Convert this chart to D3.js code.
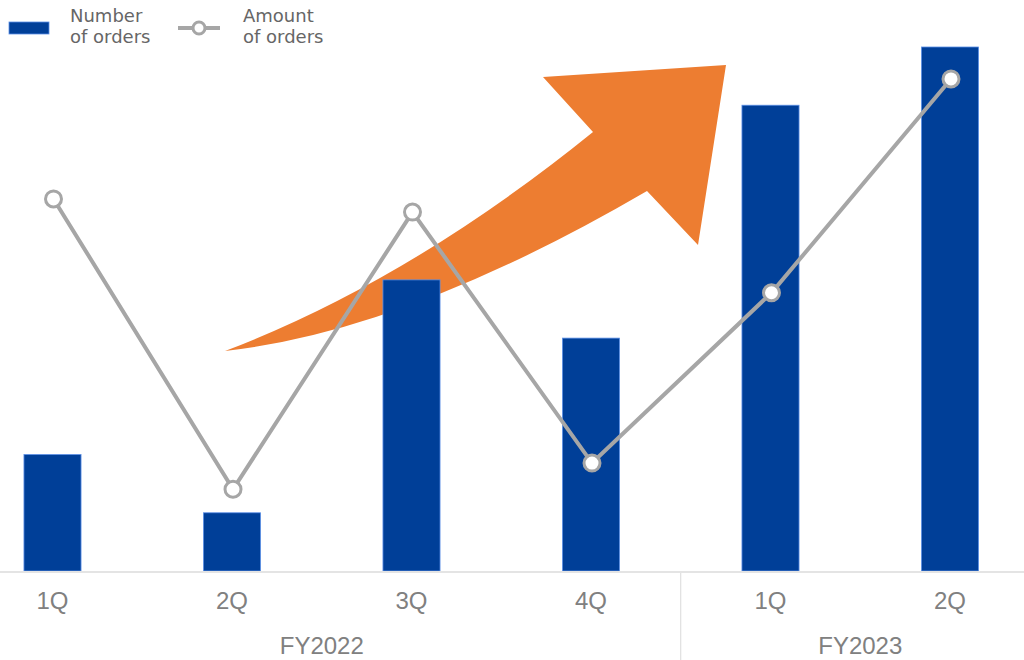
<!DOCTYPE html>
<html>
<head>
<meta charset="utf-8">
<script src="https://cdn.jsdelivr.net/npm/d3@7"></script>
<style>
  html, body { margin: 0; padding: 0; background: #fff; }
  svg { display: block; }
</style>
</head>
<body>
<svg id="chart" width="1024" height="660"></svg>
<script>
// Quarterly order data
const fiscalYears = ["FY2022", "FY2023"];
const quarters = ["1Q", "2Q", "3Q", "4Q", "1Q", "2Q"];
const quarterYear = ["FY2022", "FY2022", "FY2022", "FY2022", "FY2023", "FY2023"];
const numberOfOrders = [2, 1, 5, 4, 8, 9];
const amountOfOrders = [71, 15.6, 68.5, 20.6, 53.1, 93.9];

const seriesNames = ["Number\nof orders", "Amount\nof orders"];

const colors = {
  bar: "#003f98",
  barEdge: "#5b8fe6",
  line: "#a6a6a6",
  arrow: "#ed7d31",
  tick: "#808080",
  legend: "#666666",
  axis: "#e4e4e4",
  divider: "#d9d9d9"
};

const svg = d3.select("#chart");
const W = 1024, H = 660;
const baseY = 571;

const keys = quarters.map((q, i) => quarterYear[i] + "-" + q);

const x = d3.scaleBand()
  .domain(keys)
  .range([-37.25, 1039.75])
  .paddingInner(0.682)
  .paddingOuter(0.341);

const yBar = d3.scaleLinear().domain([0, 9]).range([baseY, 47]);
const yLine = d3.scaleLinear().domain([0, 100]).range([baseY, 47]);

// Growth arrow (drawn beneath the bars)
const arrow = d3.path();
arrow.moveTo(225, 351);
arrow.quadraticCurveTo(409, 281, 593, 132);
arrow.lineTo(543, 77);
arrow.lineTo(726, 65);
arrow.lineTo(698, 245);
arrow.lineTo(647, 191);
arrow.quadraticCurveTo(407, 331, 225, 351);
arrow.closePath();
svg.append("path").attr("d", arrow.toString()).attr("fill", colors.arrow);

// Bars: number of orders
svg.append("g").selectAll("rect")
  .data(numberOfOrders)
  .join("rect")
  .attr("x", (d, i) => x(keys[i]))
  .attr("y", d => yBar(d))
  .attr("width", x.bandwidth())
  .attr("height", d => baseY - yBar(d))
  .attr("fill", colors.bar)
  .attr("stroke", colors.barEdge)
  .attr("stroke-width", 0.8);

// Category axis
const axis = svg.append("g")
  .attr("transform", `translate(0,${baseY + 1})`)
  .call(d3.axisBottom(x).tickSize(0).tickPadding(0).tickFormat((k, i) => quarters[i]));
axis.select(".domain").remove();
axis.selectAll("text")
  .attr("y", 37)
  .attr("dy", 0)
  .attr("fill", colors.tick)
  .style("font-family", "'Liberation Sans', Arial, sans-serif")
  .style("font-size", "24px");

svg.append("line")
  .attr("x1", 0).attr("x2", W)
  .attr("y1", baseY + 1).attr("y2", baseY + 1)
  .attr("stroke", colors.axis).attr("stroke-width", 1.8);

// Fiscal-year divider and group labels
const lastFY22 = keys[3], firstFY23 = keys[4];
const divX = (x(lastFY22) + x(firstFY23) + x.bandwidth()) / 2;
svg.append("line")
  .attr("x1", divX).attr("x2", divX)
  .attr("y1", baseY + 2).attr("y2", H)
  .attr("stroke", colors.divider).attr("stroke-width", 1);

fiscalYears.forEach(fy => {
  const ks = keys.filter((k, i) => quarterYear[i] === fy);
  const cx = (x(ks[0]) + x(ks[ks.length - 1]) + x.bandwidth()) / 2;
  svg.append("text")
    .attr("x", cx).attr("y", 654)
    .attr("text-anchor", "middle")
    .attr("fill", colors.tick)
    .style("font-family", "'Liberation Sans', Arial, sans-serif")
    .style("font-size", "24px")
    .text(fy);
});

// Line: amount of orders
const cxOf = i => x(keys[i]) + x.bandwidth() / 2 + 1;
const line = d3.line().x((d, i) => cxOf(i)).y(d => yLine(d));
svg.append("path")
  .datum(amountOfOrders)
  .attr("d", line)
  .attr("fill", "none")
  .attr("stroke", colors.line)
  .attr("stroke-width", 4);
svg.append("g").selectAll("circle")
  .data(amountOfOrders)
  .join("circle")
  .attr("cx", (d, i) => cxOf(i))
  .attr("cy", d => yLine(d))
  .attr("r", 8)
  .attr("fill", "#fff")
  .attr("stroke", colors.line)
  .attr("stroke-width", 3);

// Legend
const legend = svg.append("g");
legend.append("rect")
  .attr("x", 9).attr("y", 22).attr("width", 40).attr("height", 12)
  .attr("fill", colors.bar).attr("stroke", colors.barEdge).attr("stroke-width", 0.8);
legend.append("line")
  .attr("x1", 178).attr("x2", 220).attr("y1", 28).attr("y2", 28)
  .attr("stroke", colors.line).attr("stroke-width", 4);
legend.append("circle")
  .attr("cx", 199).attr("cy", 28).attr("r", 6)
  .attr("fill", "#fff").attr("stroke", colors.line).attr("stroke-width", 3);

[70, 243].forEach((lx, s) => {
  const t = legend.append("text")
    .attr("x", lx).attr("y", 22)
    .attr("fill", colors.legend)
    .style("font-family", "'DejaVu Sans', Verdana, sans-serif")
    .style("font-size", "18px");
  seriesNames[s].split("\n").forEach((ln, j) => {
    t.append("tspan").attr("x", lx).attr("dy", j === 0 ? 0 : 21).text(ln);
  });
});
</script>
</body>
</html>
